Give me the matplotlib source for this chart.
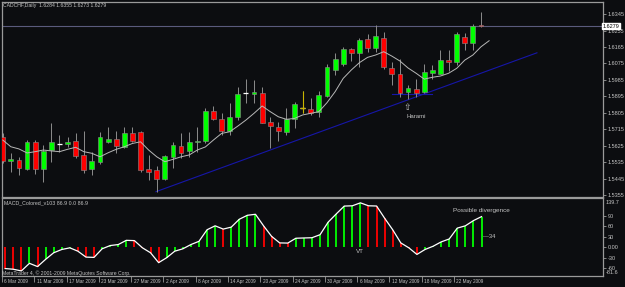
import matplotlib
matplotlib.use('Agg')
import matplotlib.pyplot as plt
import matplotlib.transforms as mtrans
import numpy as np

plt.rcParams['font.family'] = ['Liberation Sans', 'DejaVu Sans']

# daily candles, 6 Mar 2009 .. 22 May 2009
opens = [1.5672, 1.5539, 1.5546, 1.5497, 1.5645, 1.5497, 1.5601, 1.5634, 1.5634, 1.5652,
         1.5574, 1.5496, 1.5534, 1.5646, 1.5660, 1.5619, 1.5692, 1.5700, 1.5496, 1.5492,
         1.5441, 1.5564, 1.5623, 1.5597, 1.5643, 1.5652, 1.5814, 1.5769, 1.5705, 1.5783,
         1.5913, 1.5909, 1.5911, 1.5753, 1.5727, 1.5698, 1.5769, 1.5829, 1.5824, 1.5807,
         1.5896, 1.6039, 1.6072, 1.6154, 1.6133, 1.6207, 1.6161, 1.6212, 1.6048, 1.6015,
         1.5920, 1.5933, 1.5917, 1.6024, 1.6018, 1.6093, 1.6084, 1.6218, 1.6188, 1.6284]
highs = [1.5694, 1.5585, 1.5563, 1.5656, 1.5656, 1.5628, 1.5749, 1.5683, 1.5674, 1.5696,
         1.5705, 1.5592, 1.5700, 1.5725, 1.5707, 1.5725, 1.5725, 1.5707, 1.5574, 1.5514,
         1.5574, 1.5646, 1.5696, 1.5701, 1.5729, 1.5831, 1.5842, 1.5802, 1.5857, 1.5947,
         1.5988, 1.5984, 1.5944, 1.5780, 1.5756, 1.5829, 1.5865, 1.5924, 1.5884, 1.5924,
         1.6072, 1.6130, 1.6166, 1.6157, 1.6212, 1.6236, 1.6285, 1.6248, 1.6084, 1.6097,
         1.5957, 1.5988, 1.6072, 1.6066, 1.6148, 1.6148, 1.6245, 1.6239, 1.6290, 1.6355]
lows = [1.5530, 1.5481, 1.5464, 1.5492, 1.5470, 1.5426, 1.5536, 1.5590, 1.5619, 1.5557,
        1.5477, 1.5464, 1.5524, 1.5638, 1.5583, 1.5610, 1.5645, 1.5482, 1.5437, 1.5373,
        1.5437, 1.5501, 1.5556, 1.5564, 1.5592, 1.5639, 1.5766, 1.5683, 1.5683, 1.5765,
        1.5857, 1.5857, 1.5749, 1.5610, 1.5652, 1.5683, 1.5720, 1.5802, 1.5793, 1.5783,
        1.5889, 1.6011, 1.6061, 1.6090, 1.6057, 1.6137, 1.6139, 1.6043, 1.5957, 1.5891,
        1.5878, 1.5889, 1.5913, 1.5988, 1.6017, 1.6035, 1.6066, 1.6148, 1.6148, 1.6273]
closes = [1.5541, 1.5554, 1.5503, 1.5645, 1.5497, 1.5596, 1.5645, 1.5634, 1.5646, 1.5568,
          1.5492, 1.5541, 1.5671, 1.5660, 1.5623, 1.5692, 1.5652, 1.5492, 1.5482, 1.5441,
          1.5568, 1.5628, 1.5586, 1.5643, 1.5652, 1.5816, 1.5771, 1.5707, 1.5783, 1.5907,
          1.5913, 1.5920, 1.5750, 1.5732, 1.5703, 1.5771, 1.5851, 1.5829, 1.5802, 1.5900,
          1.6053, 1.6099, 1.6154, 1.6130, 1.6203, 1.6161, 1.6225, 1.6057, 1.6015, 1.5915,
          1.5942, 1.5911, 1.6026, 1.6039, 1.6093, 1.6084, 1.6236, 1.6188, 1.6281, 1.6279]

# moving average (drawn shifted one bar forward)
ma = [1.5656, 1.5619, 1.5607, 1.5585, 1.5592, 1.5601, 1.5596, 1.5592, 1.5605, 1.5616,
      1.5592, 1.5583, 1.5564, 1.5586, 1.5605, 1.5619, 1.5637, 1.5646, 1.5601, 1.5564,
      1.5537, 1.5550, 1.5564, 1.5574, 1.5601, 1.5618, 1.5656, 1.5692, 1.5701, 1.5732,
      1.5765, 1.5802, 1.5842, 1.5811, 1.5783, 1.5769, 1.5774, 1.5793, 1.5802, 1.5811,
      1.5860, 1.5920, 1.5993, 1.6039, 1.6079, 1.6108, 1.6121, 1.6139, 1.6115, 1.6088,
      1.6050, 1.6021, 1.5989, 1.5999, 1.6006, 1.6021, 1.6048, 1.6093, 1.6121, 1.6166,
      1.6199]

macd = [-60.5, -62.4, -67.2, -45.6, -54.9, -34.4, -15.7, -6.4, -1.7, -11.2,
        -28.0, -28.8, -4.5, 4.8, 7.6, 19.6, 18.8, -1.7, -15.7, -43.7,
        -29.7, -11.2, -4.5, 7.6, 16.8, 49.6, 60.8, 51.5, 57.1, 79.5,
        90.7, 93.5, 60.8, 30.8, 12.3, 11.8, 25.5, 26.3, 27.0, 35.6,
        71.1, 94.4, 116.8, 117.6, 126.0, 117.6, 117.0, 82.3, 49.6, 12.3,
        -1.7, -20.4, -6.4, 2.8, 15.1, 23.5, 54.3, 60.8, 75.6, 86.9]

price_ticks = [1.6345, 1.6255, 1.6165, 1.6075, 1.5985, 1.5895, 1.5805, 1.5715,
               1.5625, 1.5535, 1.5445, 1.5355]
macd_ticks = [90, 60, 30, 0, -30, -60]
macd_tick_labels = ['90', '60', '30', '0.00', '-30', '-60']
date_pos = [0, 4, 8, 12, 16, 20, 24, 28, 32, 36, 40, 44, 48, 52, 56]
date_labels = ['6 Mar 2009', '11 Mar 2009', '17 Mar 2009', '23 Mar 2009', '27 Mar 2009',
               '2 Apr 2009', '8 Apr 2009', '14 Apr 2009', '20 Apr 2009', '24 Apr 2009',
               '30 Apr 2009', '6 May 2009', '12 May 2009', '18 May 2009', '22 May 2009']

trend_x = [18.9, 65.9]
trend_y = [1.5373, 1.6133]
harami_x = [48.0, 52.9]
harami_y = 1.5906
cross_bar = 37
bid = 1.6279

bg = '#0c0d10'
frame = '#9a9a9a'
txt = '#c4c4c4'
W, H = 625, 287


def rect(l, t, r, b):
    return [l / W, 1 - b / H, (r - l) / W, (b - t) / H]


fig = plt.figure(figsize=(6.25, 2.87), dpi=100, facecolor=bg)
ax = fig.add_axes(rect(2, 2, 603, 197), facecolor=bg)
ax2 = fig.add_axes(rect(2, 198, 603, 276), facecolor=bg)

o = np.array(opens); h = np.array(highs); l = np.array(lows); c = np.array(closes)
x = np.arange(len(o))

# main chart
ax.axhline(bid, color='#5a5a7c', lw=0.8, zorder=1)
ax.plot(trend_x, trend_y, color='#1616a8', lw=0.8, zorder=2)
ax.plot(harami_x, [harami_y, harami_y], color='#1616a8', lw=0.8, zorder=2)
ax.vlines(x, l, h, color='#8c8c8c', lw=0.7, zorder=3)
up = c > o
dn = c < o
ax.bar(x[up], (c - o)[up], bottom=o[up], width=0.6, color='#00ff00',
       edgecolor='#8c8c8c', linewidth=0.4, zorder=4)
ax.bar(x[dn], (o - c)[dn], bottom=c[dn], width=0.6, color='#ff0000',
       edgecolor='#8c8c8c', linewidth=0.4, zorder=4)
flat = (c == o)
ax.hlines(o[flat], x[flat] - 0.3, x[flat] + 0.3, color='white', lw=0.9, zorder=5)
ax.vlines(cross_bar, l[cross_bar], h[cross_bar], color='#c8b400', lw=0.8, zorder=6)
ax.hlines(o[cross_bar], cross_bar - 0.3, cross_bar + 0.3, color='#c8b400', lw=0.9, zorder=6)
ax.plot(np.arange(len(ma)), ma, color='#b8b8b8', lw=0.7, zorder=5)

ax.text(49.9, 1.5836, '\u21e7', color=txt, fontsize=6.5, ha='center', va='center',
        family='DejaVu Sans')
ax.text(51.0, 1.5783, 'Harami', color=txt, fontsize=4.3, ha='center', va='center')

ax.set_xlim(-0.09, 74.05)
ax.set_ylim(1.5344, 1.6411)
ax.yaxis.tick_right()
ax.set_yticks(price_ticks)
ax.set_yticklabels(['%.4f' % v for v in price_ticks])
ax.tick_params(axis='y', length=2, width=0.6, color=frame, labelcolor=txt,
               labelsize=4, pad=1.5)
ax.set_xticks([])
for s in ax.spines.values():
    s.set_color(frame)
    s.set_linewidth(0.9)

tr = mtrans.blended_transform_factory(ax.transAxes, ax.transData)
ax.text(1.0, bid, '1.6279', transform=tr, ha='left', va='center', fontsize=4,
        color='black', clip_on=False, zorder=10,
        bbox=dict(facecolor='white', edgecolor='white', pad=0.5))

# MACD panel
m = np.array(macd)
rising = np.r_[False, np.diff(m) > 0]
cols = np.where(rising, '#00ff00', '#ff0000')
ax2.vlines(x, 0, m, colors=cols, lw=1.3, zorder=2)
ax2.plot(x, m, color='white', lw=0.9, zorder=3)
ax2.text(44, -12.8, 'VT', color=txt, fontsize=4.5, ha='center', va='center')
ax2.text(59, 103.5, 'Possible divergence', color=txt, fontsize=4.6, ha='center', va='center')
ax2.text(59.2, 29.8, '\u201434', color=txt, fontsize=4.2, ha='left', va='center')

ax2.set_xlim(-0.09, 74.05)
ax2.set_ylim(-81.6, 139.7)
ax2.yaxis.tick_right()
ax2.set_yticks(macd_ticks)
ax2.set_yticklabels(macd_tick_labels)
ax2.tick_params(axis='y', length=2, width=0.6, color=frame, labelcolor=txt,
                labelsize=4, pad=1.5)
ax2.set_xticks([p - 0.4 for p in date_pos])
ax2.set_xticklabels([])
ax2.tick_params(axis='x', length=4, width=0.6, color=frame)
for s in ax2.spines.values():
    s.set_color(frame)
    s.set_linewidth(0.9)
trx = mtrans.blended_transform_factory(ax2.transData, ax2.transAxes)
for p, lab in zip(date_pos, date_labels):
    ax2.text(p - 0.1, -0.065, lab, transform=trx, ha='left', va='center',
             fontsize=3.4, color=txt, clip_on=False)

fig.text(606 / W, 1 - 202 / H, '139.7', color=txt, fontsize=4, va='center')
fig.text(606 / W, 1 - 273 / H, '-81.6', color=txt, fontsize=4, va='center')
fig.text(3 / W, 1 - 5 / H, 'CADCHF,Daily  1.6284 1.6355 1.6273 1.6279', color=txt,
         fontsize=3.7, va='center')
fig.text(4 / W, 1 - 203 / H, 'MACD_Colored_v103 86.9 0.0 86.9', color=txt,
         fontsize=3.8, va='center')
fig.text(2 / W, 1 - 273 / H, 'MetaTrader 4, \u00a9 2001-2009 MetaQuotes Software Corp.',
         color=txt, fontsize=3.7, va='center')

fig.savefig('out.png', dpi=100, facecolor=bg)
